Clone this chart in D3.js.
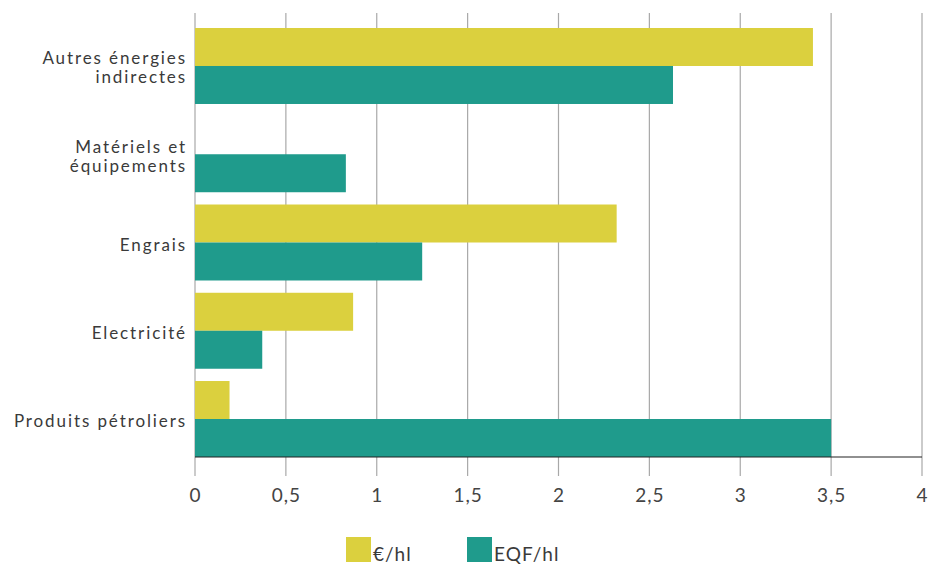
<html>
<head>
<meta charset="utf-8">
<script src="https://cdn.jsdelivr.net/npm/d3@7"></script>
<style>
  body { margin: 0; background: #fff; }
  svg text { font-family: Lato, "Open Sans", sans-serif; fill: #3a3a3a; }
</style>
</head>
<body>
<svg id="chart"></svg>
<script>
// categories, top to bottom
const categories = ["Autres énergies indirectes", "Matériels et équipements", "Engrais", "Electricité", "Produits pétroliers"]
// label lines for each category
const labelLines = [["Autres énergies", "indirectes"], ["Matériels et", "équipements"], ["Engrais"], ["Electricité"], ["Produits pétroliers"]]
const series = ["€/hl", "EQF/hl"]
const euroPerHl = [3.4, null, 2.32, 0.87, 0.19]
const eqfPerHl = [2.63, 0.83, 1.25, 0.37, 3.5]
const xTicks = [0, 0.5, 1, 1.5, 2, 2.5, 3, 3.5, 4]

const WIDTH = 943, HEIGHT = 565
const COLORS = ["#dbd03e", "#1f9b8c"]
const MARGIN = { left: 195, right: 21, top: 28, bottom: 108 }

const svg = d3.select("#chart").attr("width", WIDTH).attr("height", HEIGHT)

const x = d3.scaleLinear().domain([0, 4]).range([MARGIN.left, WIDTH - MARGIN.right])
const y = d3.scaleBand().domain(categories)
  .range([MARGIN.top, HEIGHT - MARGIN.bottom])
  .paddingInner(0.139).paddingOuter(0)
const ySub = d3.scaleBand().domain(series).range([0, y.bandwidth()])

// vertical gridlines, continuing below the axis as ticks
svg.append("g").selectAll("line").data(xTicks).join("line")
  .attr("x1", d => x(d)).attr("x2", d => x(d))
  .attr("y1", 13).attr("y2", 476)
  .attr("stroke", "#a8a8a8").attr("stroke-width", 1.2)

// bars
const rows = categories.map((c, i) => ({ cat: c, values: [euroPerHl[i], eqfPerHl[i]] }))
const groups = svg.append("g").selectAll("g").data(rows).join("g")
  .attr("transform", d => `translate(0,${y(d.cat)})`)
groups.selectAll("rect")
  .data(d => d.values.map((v, j) => ({ s: series[j], v, j })).filter(e => e.v != null))
  .join("rect")
  .attr("x", x(0))
  .attr("y", e => ySub(e.s))
  .attr("width", e => x(e.v) - x(0))
  .attr("height", ySub.bandwidth())
  .attr("fill", e => COLORS[e.j])

// baseline
svg.append("line")
  .attr("x1", x(0)).attr("x2", x(4))
  .attr("y1", HEIGHT - MARGIN.bottom).attr("y2", HEIGHT - MARGIN.bottom)
  .attr("stroke", "#222").attr("stroke-width", 1.2)

// x tick labels
const xAxis = d3.axisBottom(x).tickValues(xTicks).tickSize(0)
  .tickFormat(d => String(d).replace(".", ","))
const xg = svg.append("g").attr("transform", `translate(0,${HEIGHT - MARGIN.bottom})`).call(xAxis)
xg.select(".domain").remove()
xg.selectAll("text").attr("dy", 0).attr("y", 45)
  .style("font-size", "19px").style("fill", "#444").style("letter-spacing", "1px")
  .style("font-family", "Lato, sans-serif")

// category labels
const labels = svg.append("g").selectAll("text").data(categories).join("text")
  .attr("x", 187)
  .attr("y", d => y(d) + y.bandwidth() / 2 + 8)
  .attr("text-anchor", "end")
  .style("font-size", "17px").style("letter-spacing", "1.9px")
labels.each(function (d, i) {
  const lines = labelLines[i]
  const t = d3.select(this)
  lines.forEach((l, k) => {
    t.append("tspan").attr("x", 187)
      .attr("dy", k === 0 ? -(lines.length - 1) * 9.5 + "px" : "19px")
      .text(l)
  })
})

// legend
const legend = svg.append("g").attr("transform", "translate(346,537)")
const items = legend.selectAll("g").data(series).join("g")
  .attr("transform", (d, i) => `translate(${i * 121},0)`)
items.append("rect").attr("width", 25).attr("height", 25).attr("fill", (d, i) => COLORS[i])
items.append("text").attr("x", 27).attr("y", 24)
  .style("font-size", "19px").style("letter-spacing", "1px")
  .text(d => d)
</script>
</body>
</html>
